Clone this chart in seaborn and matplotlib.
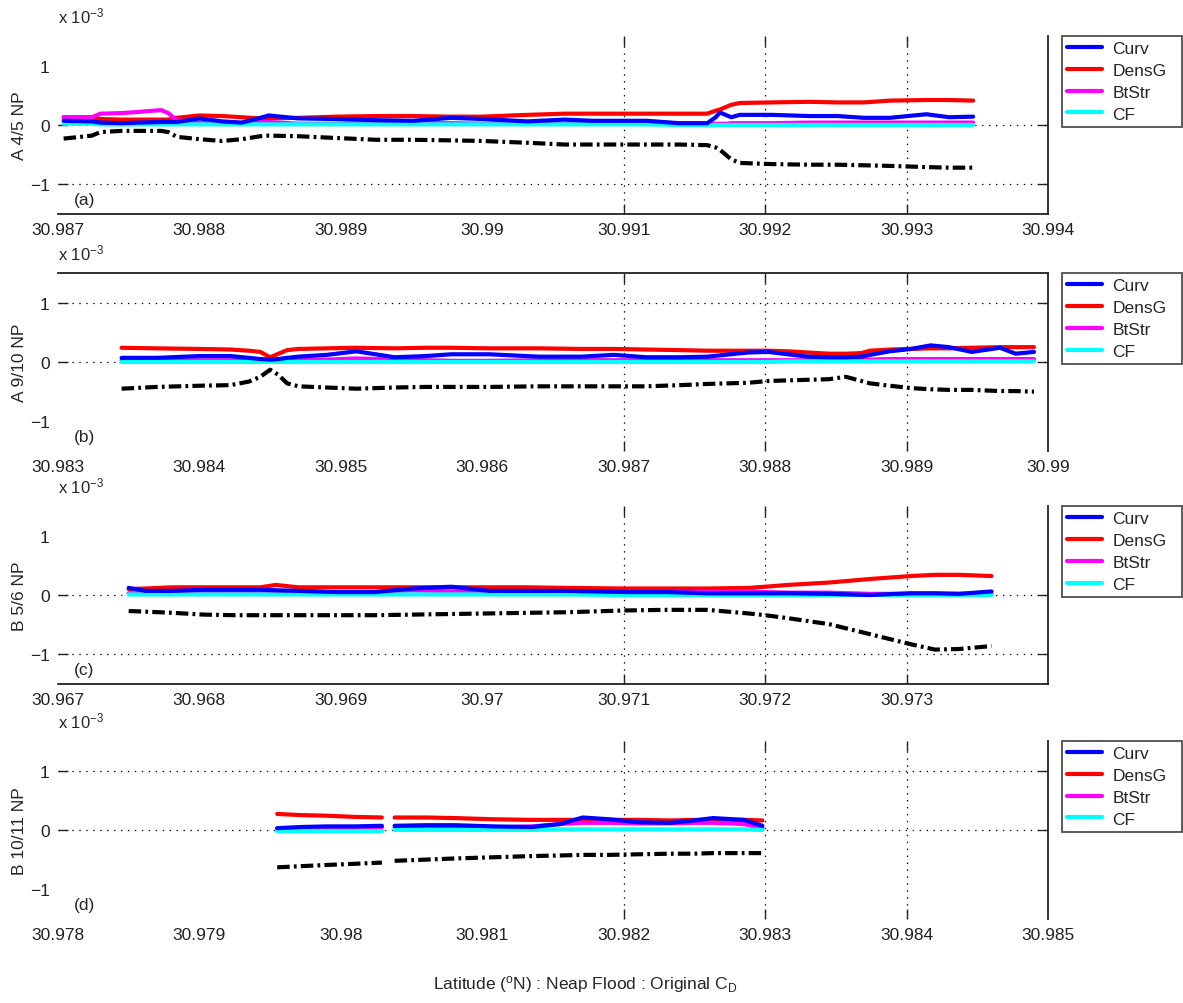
import numpy as np
import pandas as pd
import matplotlib
matplotlib.use('Agg')
import matplotlib.pyplot as plt
import seaborn as sns

# values, in units of 1e-3
# (a) A 4/5 NP
lat_a = [30.98704, 30.98724, 30.98730, 30.98745, 30.98757, 30.98773, 30.98778, 30.98784,
         30.98800, 30.98816, 30.98830, 30.98843, 30.98849, 30.98870, 30.98897, 30.98925,
         30.98951, 30.98978, 30.99000, 30.99032, 30.99058, 30.99078, 30.99116, 30.99139,
         30.99159, 30.99165, 30.99168, 30.99173, 30.99176, 30.99182, 30.99205, 30.99231,
         30.99251, 30.99270, 30.99288, 30.99314, 30.99330, 30.99347]
curv_a = [0.07, 0.06, 0.04, 0.03, 0.04, 0.05, 0.05, 0.05, 0.11, 0.06, 0.04, 0.12, 0.16,
          0.11, 0.10, 0.08, 0.07, 0.12, 0.10, 0.06, 0.09, 0.07, 0.07, 0.03, 0.03, 0.13,
          0.21, 0.16, 0.13, 0.17, 0.17, 0.15, 0.15, 0.12, 0.12, 0.18, 0.13, 0.14]
densg_a = [0.13, 0.13, 0.10, 0.09, 0.09, 0.09, 0.09, 0.12, 0.16, 0.15, 0.13, 0.11, 0.11,
           0.12, 0.14, 0.15, 0.15, 0.14, 0.14, 0.17, 0.19, 0.19, 0.19, 0.19, 0.19, 0.24,
           0.26, 0.31, 0.34, 0.37, 0.38, 0.39, 0.38, 0.38, 0.41, 0.42, 0.42, 0.41]
btstr_a = [0.13, 0.13, 0.19, 0.20, 0.22, 0.25, 0.20, 0.08, 0.04, 0.03, 0.02, 0.05, 0.05,
           0.02, 0.02, 0.03, 0.03, 0.03, 0.02, 0.02, 0.02, 0.02, 0.02, 0.02, 0.02, 0.02,
           0.02, 0.02, 0.03, 0.03, 0.03, 0.04, 0.04, 0.04, 0.04, 0.04, 0.04, 0.04]
cf_a = [0.02, 0.02, 0.01, 0.01, 0.01, 0.01, 0.01, 0.01, 0.01, 0.01, 0.01, 0.01, 0.01,
        0.01, 0.01, 0.01, 0.01, 0.01, 0.01, 0.01, 0.01, 0.01, 0.01, 0.00, 0.00, 0.00,
        0.00, 0.00, 0.00, 0.00, 0.00, 0.00, 0.00, 0.00, 0.00, 0.00, 0.00, 0.00]
total_a = [-0.23, -0.18, -0.12, -0.10, -0.10, -0.10, -0.12, -0.20, -0.24, -0.27, -0.24,
           -0.19, -0.18, -0.19, -0.22, -0.25, -0.25, -0.26, -0.27, -0.30, -0.33, -0.33,
           -0.33, -0.33, -0.34, -0.38, -0.42, -0.52, -0.58, -0.64, -0.66, -0.67, -0.67,
           -0.68, -0.69, -0.71, -0.72, -0.72]

# (b) A 9/10 NP
lat_b = [30.98345, 30.98370, 30.98400, 30.98422, 30.98435, 30.98443, 30.98450, 30.98456,
         30.98462, 30.98470, 30.98490, 30.98511, 30.98538, 30.98560, 30.98578, 30.98605,
         30.98640, 30.98670, 30.98693, 30.98716, 30.98740, 30.98759, 30.98788, 30.98802,
         30.98816, 30.98830, 30.98845, 30.98857, 30.98868, 30.98874, 30.98888, 30.98903,
         30.98917, 30.98930, 30.98946, 30.98966, 30.98977, 30.98990]
curv_b = [0.07, 0.07, 0.10, 0.10, 0.07, 0.05, 0.04, 0.05, 0.07, 0.09, 0.12, 0.18, 0.08,
          0.10, 0.13, 0.13, 0.09, 0.09, 0.12, 0.08, 0.08, 0.09, 0.16, 0.17, 0.13, 0.09,
          0.08, 0.08, 0.09, 0.12, 0.18, 0.22, 0.28, 0.25, 0.17, 0.24, 0.14, 0.17]
densg_b = [0.24, 0.23, 0.22, 0.21, 0.19, 0.17, 0.08, 0.14, 0.20, 0.22, 0.23, 0.24, 0.23,
           0.24, 0.24, 0.23, 0.23, 0.22, 0.22, 0.21, 0.20, 0.19, 0.19, 0.19, 0.18, 0.16,
           0.14, 0.14, 0.15, 0.19, 0.21, 0.22, 0.23, 0.23, 0.24, 0.25, 0.25, 0.25]
btstr_b = [0.03, 0.03, 0.03, 0.03, 0.03, 0.03, 0.03, 0.03, 0.03, 0.03, 0.04, 0.06, 0.04,
           0.03, 0.02, 0.02, 0.03, 0.03, 0.03, 0.03, 0.03, 0.03, 0.03, 0.03, 0.03, 0.03,
           0.03, 0.03, 0.03, 0.04, 0.05, 0.05, 0.05, 0.05, 0.05, 0.05, 0.05, 0.05]
cf_b = [0.00, 0.00, 0.00, 0.00, 0.00, 0.00, 0.00, 0.00, 0.00, 0.00, 0.00, 0.00, 0.00,
        0.00, 0.00, 0.00, 0.00, 0.00, 0.00, 0.00, 0.00, 0.00, 0.00, 0.00, 0.01, 0.01,
        0.01, 0.01, 0.01, 0.01, 0.01, 0.01, 0.01, 0.01, 0.01, 0.01, 0.01, 0.01]
total_b = [-0.45, -0.42, -0.40, -0.39, -0.33, -0.25, -0.13, -0.22, -0.36, -0.41, -0.43,
           -0.45, -0.43, -0.42, -0.42, -0.42, -0.41, -0.41, -0.41, -0.41, -0.39, -0.37,
           -0.35, -0.32, -0.31, -0.30, -0.29, -0.25, -0.32, -0.36, -0.40, -0.44, -0.46,
           -0.47, -0.47, -0.49, -0.49, -0.50]

# (c) B 5/6 NP
lat_c = [30.96750, 30.96762, 30.96781, 30.96803, 30.96825, 30.96843, 30.96854, 30.96870,
         30.96897, 30.96924, 30.96951, 30.96978, 30.97005, 30.97032, 30.97060, 30.97101,
         30.97130, 30.97159, 30.97188, 30.97200, 30.97216, 30.97245, 30.97274, 30.97303,
         30.97320, 30.97337, 30.97360]
curv_c = [0.12, 0.07, 0.07, 0.09, 0.09, 0.09, 0.08, 0.07, 0.05, 0.05, 0.11, 0.14, 0.07,
          0.07, 0.07, 0.05, 0.05, 0.03, 0.03, 0.03, 0.03, 0.02, 0.00, 0.03, 0.03, 0.02, 0.06]
densg_c = [0.10, 0.11, 0.13, 0.13, 0.13, 0.13, 0.17, 0.13, 0.13, 0.13, 0.13, 0.13, 0.13,
           0.13, 0.12, 0.11, 0.11, 0.11, 0.12, 0.14, 0.17, 0.21, 0.27, 0.32, 0.34, 0.34, 0.32]
btstr_c = [0.03, 0.03, 0.04, 0.04, 0.05, 0.05, 0.06, 0.05, 0.04, 0.05, 0.08, 0.06, 0.05,
           0.05, 0.04, 0.04, 0.05, 0.05, 0.06, 0.05, 0.04, 0.04, 0.02, 0.02, 0.02, 0.02, 0.02]
cf_c = [0.01, 0.01, 0.01, 0.01, 0.01, 0.01, 0.01, 0.01, 0.01, 0.01, 0.01, 0.01, 0.01,
        0.01, 0.01, 0.00, 0.00, 0.00, 0.00, 0.00, 0.00, 0.00, 0.00, 0.00, 0.00, 0.00, 0.00]
total_c = [-0.27, -0.28, -0.30, -0.33, -0.34, -0.34, -0.34, -0.34, -0.34, -0.34, -0.33,
           -0.32, -0.31, -0.30, -0.29, -0.26, -0.25, -0.25, -0.31, -0.34, -0.39, -0.49,
           -0.66, -0.83, -0.92, -0.91, -0.86]

# (d) B 10/11 NP -- two pieces with a short gap
lat_d = [30.97955, 30.97972, 30.97990, 30.98010, 30.98029,
         30.98038, 30.98060, 30.98081, 30.98108, 30.98135, 30.98155, 30.98171, 30.98190,
         30.98210, 30.98233, 30.98250, 30.98263, 30.98285, 30.98298]
piece_d = [1, 1, 1, 1, 1,
           2, 2, 2, 2, 2, 2, 2, 2, 2, 2, 2, 2, 2, 2]
curv_d = [0.03, 0.05, 0.06, 0.06, 0.07,
          0.07, 0.08, 0.08, 0.06, 0.05, 0.10, 0.21, 0.18, 0.13, 0.12, 0.16, 0.20, 0.17, 0.07]
densg_d = [0.27, 0.25, 0.24, 0.22, 0.21,
           0.21, 0.21, 0.20, 0.18, 0.17, 0.17, 0.17, 0.17, 0.17, 0.16, 0.17, 0.17, 0.17, 0.16]
btstr_d = [0.02, 0.03, 0.03, 0.04, 0.04,
           0.04, 0.04, 0.05, 0.04, 0.06, 0.10, 0.12, 0.12, 0.11, 0.11, 0.12, 0.12, 0.10, 0.03]
cf_d = [-0.01, -0.01, -0.01, -0.01, -0.01,
        0.00, 0.00, 0.00, 0.00, 0.00, 0.01, 0.01, 0.01, 0.01, 0.01, 0.01, 0.01, 0.01, 0.00]
total_d = [-0.63, -0.61, -0.59, -0.57, -0.55,
           -0.52, -0.50, -0.48, -0.46, -0.44, -0.43, -0.42, -0.42, -0.41, -0.40, -0.40,
           -0.39, -0.39, -0.39]

names = ['Curv', 'DensG', 'BtStr', 'CF']
colors = {'Curv': '#0000ff', 'DensG': '#ff0000', 'BtStr': '#ff00ff', 'CF': '#00ffff'}
ytick_vals = [-1, 0, 1]

panels = [
    dict(lat=lat_a, piece=None, Curv=curv_a, DensG=densg_a, BtStr=btstr_a, CF=cf_a,
         total=total_a, x0=30.987, ylabel='A 4/5 NP', tag='(a)', hgrid=[0, -1],
         spines=['bottom', 'right'], lastlabel=True),
    dict(lat=lat_b, piece=None, Curv=curv_b, DensG=densg_b, BtStr=btstr_b, CF=cf_b,
         total=total_b, x0=30.983, ylabel='A 9/10 NP', tag='(b)', hgrid=[1, 0],
         spines=['top', 'right'], lastlabel=True),
    dict(lat=lat_c, piece=None, Curv=curv_c, DensG=densg_c, BtStr=btstr_c, CF=cf_c,
         total=total_c, x0=30.967, ylabel='B 5/6 NP', tag='(c)', hgrid=[0, -1],
         spines=['bottom', 'right'], lastlabel=False),
    dict(lat=lat_d, piece=piece_d, Curv=curv_d, DensG=densg_d, BtStr=btstr_d, CF=cf_d,
         total=total_d, x0=30.978, ylabel='B 10/11 NP', tag='(d)', hgrid=[1, 0],
         spines=['right'], lastlabel=True),
]

sns.set_style('white')
plt.rcParams['font.family'] = ['Liberation Sans', 'DejaVu Sans']
plt.rcParams['mathtext.fontset'] = 'custom'
plt.rcParams['mathtext.rm'] = 'Liberation Sans'
plt.rcParams['mathtext.it'] = 'Liberation Sans:italic'
plt.rcParams['lines.scale_dashes'] = False
plt.rcParams['axes.unicode_minus'] = True

fig = plt.figure(figsize=(11.83, 10.04), dpi=100)
bottoms = [0.7859, 0.5498, 0.3177, 0.0837]

for p, b in zip(panels, bottoms):
    ax = fig.add_axes([0.049, b, 0.837, 0.1773])
    n = len(p['lat'])
    df = pd.DataFrame({'lat': p['lat'],
                       'piece': p['piece'] if p['piece'] is not None else [1] * n,
                       'total': p['total']})
    for nm in names:
        df[nm] = p[nm]

    xticks = np.round(p['x0'] + 0.001 * np.arange(8), 3)
    ax.set_xlim(xticks[0], xticks[-1])
    ax.set_ylim(-1.5, 1.5)

    # partial dotted grid as in the original
    dots = (0, (1, 4))
    for yv in p['hgrid']:
        ax.axhline(yv, color='k', lw=0.9, ls=dots, zorder=0)
    for xv in xticks[4:7]:
        ax.axvline(xv, color='k', lw=0.9, ls=dots, zorder=0)

    sns.lineplot(data=df, x='lat', y='total', units='piece', estimator=None,
                 color='k', lw=3, ax=ax, ls=(0, (9, 3, 2, 3)), legend=False)
    for nm in ['DensG', 'BtStr', 'CF', 'Curv']:
        sns.lineplot(data=df, x='lat', y=nm, units='piece', estimator=None,
                     color=colors[nm], lw=3, ax=ax, label=nm, legend=False)

    ax.set_xticks(xticks)
    labels = ['%g' % v for v in xticks]
    if not p['lastlabel']:
        labels[-1] = ''
    ax.set_xticklabels(labels)
    ax.set_yticks(ytick_vals)
    ax.set_yticklabels(['\u22121', '0', '1'])
    ax.tick_params(direction='in', length=7, width=1, top=True, right=True,
                   labelsize=12.5, colors='#222222', pad=6)
    for i, t in enumerate(ax.xaxis.get_major_ticks()):
        t.tick1line.set_visible(4 <= i <= 6)
        t.tick2line.set_visible(4 <= i <= 6)
    for t, yv in zip(ax.yaxis.get_major_ticks(), ytick_vals):
        t.tick1line.set_visible(yv in p['hgrid'])
        t.tick2line.set_visible(yv in p['hgrid'])

    for side in ['top', 'bottom', 'left', 'right']:
        ax.spines[side].set_visible(side in p['spines'])
        ax.spines[side].set_color('#222222')
        ax.spines[side].set_linewidth(1.3)

    ax.set_xlabel('')
    ax.set_ylabel(p['ylabel'], fontsize=12.5, labelpad=2)
    ax.text(0.0, 1.06, r'x 10$^{-3}$', transform=ax.transAxes, fontsize=12,
            ha='left', va='bottom')
    ax.text(0.016, 0.04, p['tag'], transform=ax.transAxes, fontsize=12.5,
            ha='left', va='bottom')

    h, l = ax.get_legend_handles_labels()
    order = [l.index(nm) for nm in names]
    leg = ax.legend([h[i] for i in order], names, loc='upper left',
                    bbox_to_anchor=(1.014, 0.5, 0.121, 0.5), mode='expand',
                    borderaxespad=0, fontsize=12.5, frameon=True, fancybox=False,
                    handlelength=2.0, handletextpad=0.6, labelspacing=0.38,
                    borderpad=0.3)
    leg.get_frame().set_edgecolor('#222222')
    leg.get_frame().set_linewidth(1.3)

fig.text(0.495, 0.019, r'Latitude ($^{\rm o}$N) : Neap Flood : Original C$_{\rm D}$',
         ha='center', va='center', fontsize=12.5)

fig.savefig('out.png', dpi=100)
